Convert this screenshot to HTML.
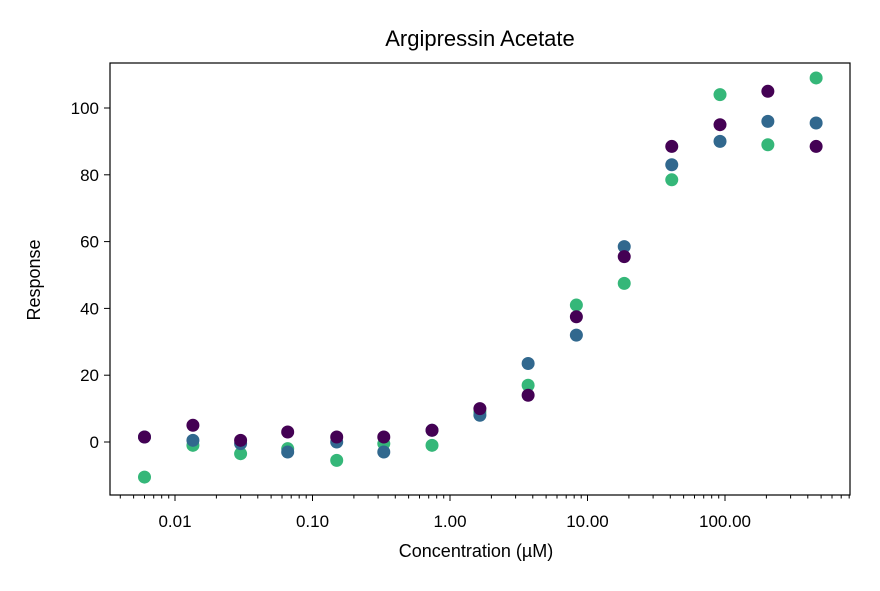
<!DOCTYPE html>
<html><head><meta charset="utf-8"><style>
body{margin:0;background:#fff;}
svg text{font-family:"Liberation Sans",sans-serif;fill:#000;}
</style></head><body>
<svg id="chart" width="880" height="586">
<rect x="110" y="63" width="740" height="432" fill="none" stroke="#000" stroke-width="1.2"/>
<text x="480" y="46" font-size="22" text-anchor="middle">Argipressin Acetate</text>
<text x="476" y="557" font-size="18" text-anchor="middle">Concentration (µM)</text>
<text x="40" y="280" font-size="18" text-anchor="middle" transform="rotate(-90 40 280)">Response</text>
<g id="axes"></g><g id="marks"></g>
</svg>
<script>
const concentrations=[0.006,0.0135,0.03,0.066,0.15,0.33,0.74,1.65,3.7,8.3,18.5,41,92,205,460];
const seriesGreen=[-10.5,-1,-3.5,-2,-5.5,-0.5,-1,9,17,41,47.5,78.5,104,89,109];
const seriesBlue=[1.5,0.5,-0.5,-3,0,-3,3.5,8,23.5,32,58.5,83,90,96,95.5];
const seriesPurple=[1.5,5,0.5,3,1.5,1.5,3.5,10,14,37.5,55.5,88.5,95,105,88.5];
const yTicks=[0,20,40,60,80,100];
const xTicks=[0.01,0.1,1,10,100];
const xTickLabels=["0.01","0.10","1.00","10.00","100.00"];
const NS="http://www.w3.org/2000/svg";
function xs(v){return 450+137.5*Math.log10(v);}
function ys(v){return 442-3.34*v;}
const axes=document.getElementById('axes'),marks=document.getElementById('marks');
function mk(t,a,p){const e=document.createElementNS(NS,t);for(const k in a)e.setAttribute(k,a[k]);p.appendChild(e);return e;}
yTicks.forEach(v=>{
 const l=mk('line',{x1:104,x2:110,y1:ys(v),y2:ys(v),stroke:'#000'},axes);
 
 
 const t=mk('text',{x:99,y:ys(v)+6,'font-size':17,'text-anchor':'end'},axes);t.textContent=v;
 
 
});
for(let d=-3;d<=2;d++)for(let m=1;m<10;m++){
 const v=m*Math.pow(10,d),x=xs(v);if(x<110||x>850)continue;
 const l=mk('line',{x1:x,x2:x,y1:495,y2:m==1?501:498.5,stroke:'#000'},axes);
 
 
}
xTicks.forEach((v,i)=>{
 const t=mk('text',{x:xs(v),y:527,'font-size':17,'text-anchor':'middle'},axes);t.textContent=xTickLabels[i];
 
 
});
[[seriesGreen,'#35b779','green'],[seriesBlue,'#31688e','blue'],[seriesPurple,'#440154','purple']].forEach(([s,c,n])=>{
 s.forEach((v,i)=>{
  const p=mk('circle',{cx:xs(concentrations[i]),cy:ys(v),r:6.5,fill:c},marks);
  
  
 });
});
</script>
</body></html>
